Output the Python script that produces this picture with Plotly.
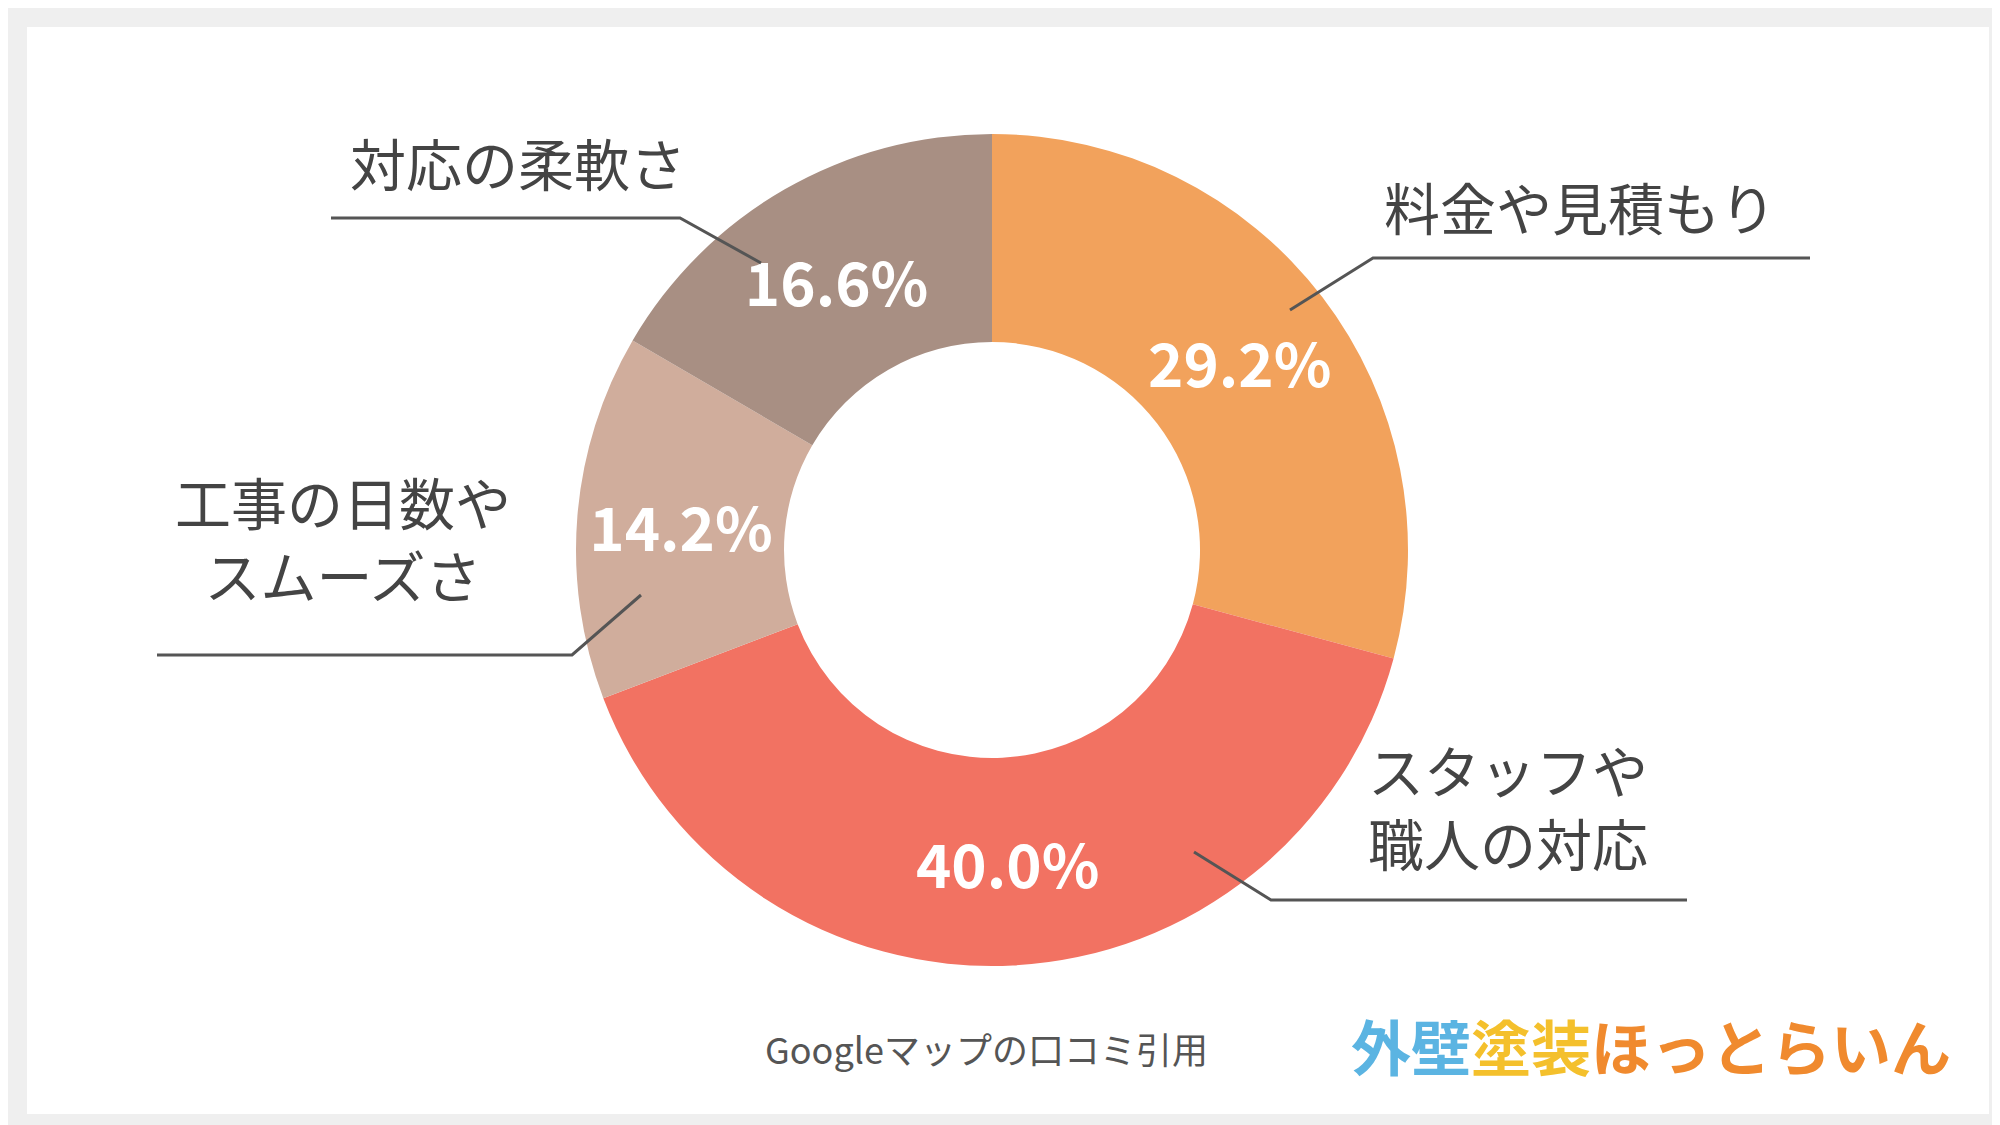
import plotly.graph_objects as go

# データ
labels = ["料金や見積もり", "スタッフや職人の対応", "工事の日数やスムーズさ", "対応の柔軟さ"]
values = [29.2, 40.0, 14.2, 16.6]
colors = ["#F2A25C", "#F27262", "#D0AD9C", "#A88F83"]
outer_labels = ["料金や見積もり", "スタッフや<br>職人の対応", "工事の日数や<br>スムーズさ", "対応の柔軟さ"]
source_text = "Googleマップの口コミ引用"

W, H = 2000, 1125
FONT = "Noto Sans CJK JP"


def px(x, y):
    # ピクセル座標 -> paper座標
    return x / W, 1 - y / H


fig = go.Figure()

CX = 984
fig.add_trace(go.Pie(
    labels=labels,
    values=values,
    marker=dict(colors=colors, line=dict(width=0)),
    hole=0.5,
    sort=False,
    direction="clockwise",
    rotation=0,
    texttemplate="%{value:.1f}%",
    textposition="inside",
    insidetextorientation="horizontal",
    textfont=dict(family=FONT, size=60, color="white", weight="bold"),
    domain=dict(x=[(CX - 416) / W, (CX + 416) / W], y=[1 - 958 / H, 1 - 126 / H]),
    showlegend=False,
    hoverinfo="label+percent",
))

# 外側ラベルと引き出し線
label_pos = [(1572, 198), (1500, 797), (335, 529), (510, 153)]
leader_lines = [
    [(1802, 250), (1365, 250), (1282, 302)],
    [(1679, 892), (1263, 892), (1186, 844)],
    [(149, 647), (564, 647), (633, 587)],
    [(323, 210), (672, 210), (753, 255)],
]

annotations = []
for text, (x, y) in zip(outer_labels, label_pos):
    ax, ay = px(x, y)
    annotations.append(dict(
        x=ax, y=ay, xref="paper", yref="paper", text=text, showarrow=False,
        font=dict(family=FONT, size=56, color="#444444"), align="center",
        xanchor="center", yanchor="middle",
    ))

shapes = [dict(type="rect", xref="paper", yref="paper", x0=19 / W, x1=1981 / W,
               y0=1 - 1106 / H, y1=1 - 19 / H, fillcolor="white",
               line=dict(width=0), layer="below")]
for pts in leader_lines:
    path = "M " + " L ".join(f"{px(x, y)[0]},{px(x, y)[1]}" for x, y in pts)
    shapes.append(dict(type="path", xref="paper", yref="paper", path=path,
                       line=dict(color="#555555", width=3)))

sx, sy = px(978, 1040)
annotations.append(dict(
    x=sx, y=sy, xref="paper", yref="paper", text=source_text, showarrow=False,
    font=dict(family=FONT, size=36, color="#555555"), xanchor="center", yanchor="middle",
))

lx, ly = px(1643, 1036)
annotations.append(dict(
    x=lx, y=ly, xref="paper", yref="paper", showarrow=False,
    text=("<span style='color:#5BB4E2'>外壁</span>"
          "<span style='color:#F4C02C'>塗装</span>"
          "<span style='color:#F08A2E'>ほっとらいん</span>"),
    font=dict(family=FONT, size=60, weight="bold"), xanchor="center", yanchor="middle",
))

fig.update_layout(
    width=W, height=H,
    margin=dict(l=0, r=0, t=0, b=0),
    paper_bgcolor="#EFEFEF",
    plot_bgcolor="white",
    annotations=annotations,
    shapes=shapes,
)

fig.write_html("out.html")
